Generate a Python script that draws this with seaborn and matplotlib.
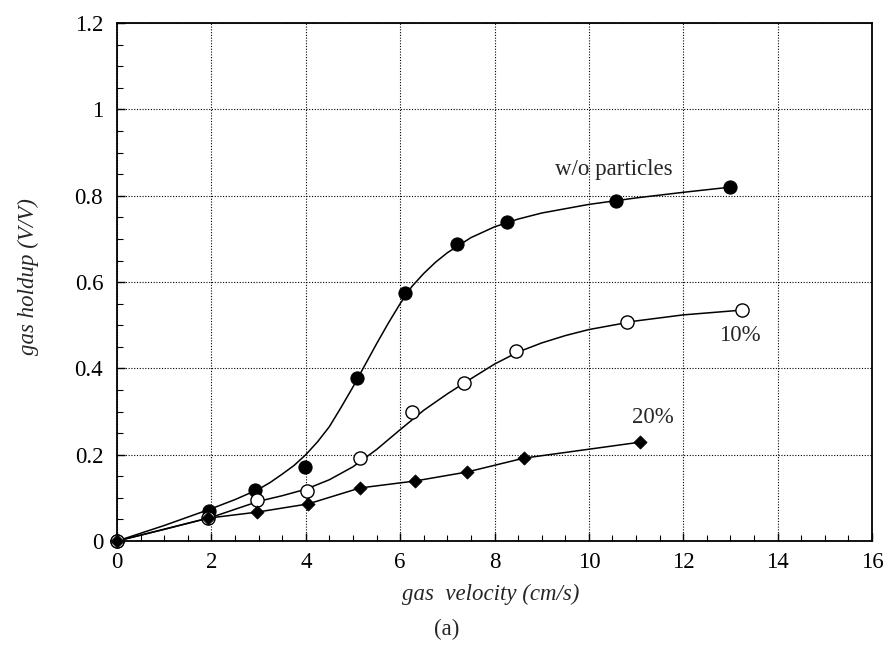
import numpy as np
import pandas as pd
import seaborn as sns
import matplotlib.pyplot as plt
from matplotlib.ticker import MultipleLocator, FormatStrFormatter

# measured points
x_none = [0, 1.95, 2.92, 3.98, 5.08, 6.10, 7.20, 8.26, 10.57, 12.99]
y_none = [0, 0.069, 0.118, 0.171, 0.378, 0.574, 0.688, 0.739, 0.788, 0.820]
x_10 = [0, 1.93, 2.97, 4.03, 5.15, 6.25, 7.35, 8.45, 10.80, 13.24]
y_10 = [0, 0.053, 0.095, 0.116, 0.192, 0.299, 0.366, 0.440, 0.507, 0.535]
x_20 = [0, 1.93, 2.97, 4.05, 5.15, 6.31, 7.42, 8.62, 11.08]
y_20 = [0, 0.053, 0.067, 0.086, 0.123, 0.139, 0.160, 0.192, 0.229]

# fitted curves
cx_none = [0, 1, 2, 2.5, 3, 3.25, 3.5, 3.75, 4, 4.25, 4.5, 4.75, 5, 5.25, 5.5,
           5.75, 6, 6.25, 6.5, 6.75, 7, 7.5, 8, 8.5, 9, 10, 11, 12, 13]
cy_none = [0, 0.036, 0.075, 0.096, 0.12, 0.136, 0.155, 0.175, 0.20, 0.23, 0.265,
           0.31, 0.357, 0.407, 0.457, 0.505, 0.55, 0.59, 0.62, 0.646, 0.668,
           0.703, 0.728, 0.746, 0.760, 0.780, 0.795, 0.808, 0.820]
cx_10 = [0, 1, 2, 3, 3.5, 4, 4.5, 5, 5.5, 6, 6.5, 7, 7.5, 8, 8.5, 9, 9.5, 10,
         11, 12, 13.24]
cy_10 = [0, 0.027, 0.055, 0.092, 0.105, 0.12, 0.142, 0.172, 0.212, 0.258, 0.303,
         0.341, 0.376, 0.410, 0.438, 0.459, 0.476, 0.490, 0.510, 0.524, 0.535]

x_ticks = list(range(0, 17, 2))
y_ticks = [0, 0.2, 0.4, 0.6, 0.8, 1.0, 1.2]

sns.set_theme(style="ticks")
plt.rcParams['font.family'] = ['Liberation Serif', 'DejaVu Serif']

fig = plt.figure(figsize=(8.88, 6.61), dpi=100)
ax = fig.add_axes([0.1318, 0.1815, 0.8502, 0.7835])

sns.lineplot(x=cx_none, y=cy_none, color='black', lw=1.1, ax=ax, sort=False)
sns.lineplot(x=cx_10, y=cy_10, color='black', lw=1.1, ax=ax, sort=False)
sns.lineplot(x=x_20, y=y_20, color='black', lw=1.1, ax=ax, sort=False)

sns.scatterplot(x=x_none, y=y_none, marker='o', s=90, color='black',
                edgecolor='black', ax=ax, zorder=5, clip_on=False)
sns.scatterplot(x=x_10, y=y_10, marker='o', s=90, color='white',
                edgecolor='black', linewidth=1.0, ax=ax, zorder=5, clip_on=False)
sns.scatterplot(x=x_20, y=y_20, marker='D', s=45, color='black',
                edgecolor='black', ax=ax, zorder=5, clip_on=False)

ax.set_xlim(0, 16)
ax.set_ylim(0, 1.2)
ax.set_xticks(x_ticks)
ax.set_yticks(y_ticks)
ax.xaxis.set_minor_locator(MultipleLocator(0.5))
ax.yaxis.set_minor_locator(MultipleLocator(0.05))
ax.yaxis.set_major_formatter(FormatStrFormatter('%g'))
ax.tick_params(which='both', direction='in', labelsize=16.5, colors='black')
ax.tick_params(which='major', length=6, width=1)
ax.tick_params(which='minor', length=4, width=0.8)
ax.tick_params(axis='x', pad=8)
ax.tick_params(axis='y', pad=10)
ax.grid(True, which='major', ls=(0, (1, 1.5)), color='black', lw=0.8)
for s in ax.spines.values():
    s.set_color('black')
    s.set_linewidth(1.3)

ax.set_xlabel('gas  velocity (cm/s)', fontsize=16.5, style='italic')
ax.set_ylabel('gas holdup (V/V)', fontsize=16.5, style='italic')
ax.xaxis.set_label_coords(0.495, -0.082)
ax.yaxis.set_label_coords(-0.103, 0.51)

ax.text(10.53, 0.862, 'w/o particles', fontsize=16.5, ha='center', va='center')
ax.text(13.2, 0.477, '10%', fontsize=16.5, ha='center', va='center')
ax.text(11.36, 0.287, '20%', fontsize=16.5, ha='center', va='center')
fig.text(0.503, 0.047, '(a)', fontsize=16.5, ha='center', va='center')

fig.savefig('out.png', dpi=100)
